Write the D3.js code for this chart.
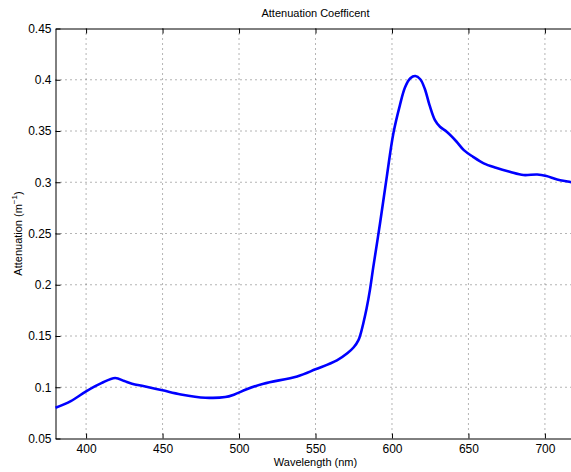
<!DOCTYPE html>
<html>
<head>
<meta charset="utf-8">
<script src="https://cdn.jsdelivr.net/npm/d3@7"></script>
<style>
  body { margin: 0; background: #fff; }
  text { font-family: "Liberation Sans", Arial, sans-serif; fill: #000; }
</style>
</head>
<body>
<div id="vis"></div>
<script>
// wavelength (nm)
const wavelengths = [380, 390, 400, 410, 419, 425, 430, 438, 450, 462, 478, 491, 497, 505, 516,
  538, 550, 564, 571, 575, 578, 579.5, 581.2, 583.4, 585.6, 587.8, 592.2, 596.6, 600.9, 605.2,
  608.5, 612, 615.3, 618.5, 621.5, 624.5, 628.1, 631.4, 635.8, 642, 647, 653, 660, 668, 677,
  686, 695, 701, 708, 716, 720]
// attenuation (1/m)
const attenuation = [0.080, 0.0865, 0.096, 0.104, 0.109, 0.106, 0.1035, 0.101, 0.097, 0.093,
  0.0898, 0.0904, 0.093, 0.098, 0.1035, 0.1106, 0.1175, 0.1263, 0.1334, 0.139, 0.1458, 0.152,
  0.162, 0.1768, 0.195, 0.2174, 0.26, 0.3053, 0.3476, 0.3753, 0.3925, 0.4015, 0.4036, 0.4005,
  0.391, 0.3755, 0.3606, 0.3541, 0.3492, 0.340, 0.3313, 0.3248, 0.3184, 0.3141, 0.3102, 0.307,
  0.3076, 0.306, 0.3027, 0.3004, 0.299]

const xTicks = [400, 450, 500, 550, 600, 650, 700]
const yTicks = [0.05, 0.1, 0.15, 0.2, 0.25, 0.3, 0.35, 0.4, 0.45]

const width = 571
const height = 472
const margin = { left: 55.5, right: -4.5, top: 28.5, bottom: 33.5 }

const svg = d3.select('#vis').append('svg')
  .attr('width', width)
  .attr('height', height)

const x = d3.scaleLinear()
  .domain([380, 720])
  .range([margin.left, width - margin.right])

const y = d3.scaleLinear()
  .domain([0.05, 0.45])
  .range([height - margin.bottom, margin.top])

// grid lines
const grid = svg.append('g')
grid.selectAll('.vgrid')
  .data(xTicks)
  .enter()
  .append('line')
  .attr('x1', d => x(d)).attr('x2', d => x(d))
  .attr('y1', y(0.45)).attr('y2', y(0.05))
  .attr('stroke', '#444').attr('stroke-width', 0.8)
  .attr('stroke-dasharray', '1,4')
grid.selectAll('.hgrid')
  .data(yTicks.slice(1, -1))
  .enter()
  .append('line')
  .attr('x1', x(380)).attr('x2', x(720))
  .attr('y1', d => y(d)).attr('y2', d => y(d))
  .attr('stroke', '#444').attr('stroke-width', 0.8)
  .attr('stroke-dasharray', '1,4')

// axes (ticks point inward)
const fmt = d => d3.format('')(+d.toFixed(2))
svg.append('g')
  .attr('transform', `translate(0,${y(0.05)})`)
  .call(d3.axisBottom(x).tickValues(xTicks).tickSizeInner(-5).tickSizeOuter(0).tickPadding(5.5))
svg.append('g')
  .attr('transform', `translate(0,${y(0.45)})`)
  .call(d3.axisTop(x).tickValues(xTicks).tickSizeInner(-5).tickSizeOuter(0).tickFormat(''))
svg.append('g')
  .attr('transform', `translate(${x(380)},0)`)
  .call(d3.axisLeft(y).tickValues(yTicks).tickSizeInner(-5).tickSizeOuter(0).tickPadding(4).tickFormat(fmt))

svg.selectAll('.domain').attr('stroke', '#000').attr('stroke-width', 1)
svg.selectAll('.tick line').attr('stroke', '#000')
svg.selectAll('.tick text').attr('font-size', 12).attr('font-family', '"Liberation Sans", Arial, sans-serif')

// curve
const data = wavelengths.map((w, i) => ({ w: w, a: attenuation[i] }))
svg.append('path')
  .datum(data)
  .attr('fill', 'none')
  .attr('stroke', '#0000ff')
  .attr('stroke-width', 2.6)
  .attr('stroke-linejoin', 'round')
  .attr('d', d3.line().x(d => x(d.w)).y(d => y(d.a)).curve(d3.curveCatmullRom.alpha(0.5)))

// title and labels
const cx = (x(380) + x(720)) / 2
svg.append('text')
  .attr('x', cx).attr('y', 17)
  .attr('text-anchor', 'middle').attr('font-size', 11)
  .text('Attenuation Coefficent')
svg.append('text')
  .attr('x', cx).attr('y', 465.5)
  .attr('text-anchor', 'middle').attr('font-size', 11)
  .text('Wavelength (nm)')

const yl = svg.append('text')
  .attr('transform', `translate(22,${(y(0.05) + y(0.45)) / 2}) rotate(-90)`)
  .attr('text-anchor', 'middle').attr('font-size', 11)
yl.append('tspan').text('Attenuation (m')
yl.append('tspan').attr('font-size', 8).attr('dy', -5).text('−1')
yl.append('tspan').attr('dy', 5).text(')')
</script>
</body>
</html>
